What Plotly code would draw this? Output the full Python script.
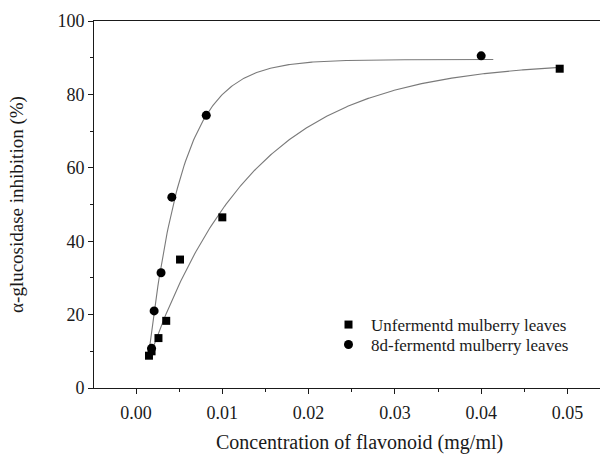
import numpy as np
import plotly.graph_objects as go

# Unfermented mulberry leaves
unf_x = [0.0015, 0.0018, 0.0026, 0.0035, 0.0051, 0.0100, 0.0491]
unf_y = [8.8, 10.0, 13.6, 18.3, 35.0, 46.5, 87.0]
# 8d-fermented mulberry leaves
fer_x = [0.0018, 0.0021, 0.0029, 0.00415, 0.00814, 0.0400]
fer_y = [10.8, 21.0, 31.4, 52.0, 74.3, 90.5]

# exponential-association fit parameters: y = A - B*exp(-k*x)
unf_fit = dict(A=89.0, B=91.6, k=82.0, x0=0.0017, x1=0.0491)
fer_fit = dict(A=89.5, B=116.3, k=250.0, x0=0.0016, x1=0.0414)

x_ticks = [0.00, 0.01, 0.02, 0.03, 0.04, 0.05]
y_ticks = [0, 20, 40, 60, 80, 100]

FONT = "'Liberation Serif', 'Times New Roman', serif"
INK = "#1a1a1a"

def fit_curve(p):
    xs = np.linspace(p["x0"], p["x1"], 300)
    return xs, p["A"] - p["B"] * np.exp(-p["k"] * xs)

fig = go.Figure()
for p in (unf_fit, fer_fit):
    xs, ys = fit_curve(p)
    fig.add_trace(go.Scatter(x=xs, y=ys, mode="lines",
                             line=dict(color="#7a7a7a", width=1.1),
                             showlegend=False, hoverinfo="skip"))

fig.add_trace(go.Scatter(x=unf_x, y=unf_y, mode="markers",
                         name="Unfermentd mulberry leaves", legend="legend",
                         marker=dict(symbol="square", size=8, color="black")))
fig.add_trace(go.Scatter(x=fer_x, y=fer_y, mode="markers",
                         name="8d-fermentd mulberry leaves", legend="legend2",
                         marker=dict(symbol="circle", size=9, color="black")))

PL, PR, PT, PB = 94, 600, 21, 388
W, H = 601, 454
pw, ph = PR - PL, PB - PT

def px_x(px):
    return (px - PL) / pw

def px_y(py):
    return (PB - py) / ph

leg_common = dict(xanchor="left", yanchor="middle", bgcolor="rgba(0,0,0,0)",
                  font=dict(family=FONT, size=17, color=INK), itemwidth=35)

fig.update_layout(
    width=W, height=H,
    margin=dict(l=PL, r=W - PR, t=PT, b=H - PB),
    paper_bgcolor="white", plot_bgcolor="white",
    font=dict(family=FONT, size=18, color=INK),
    legend=dict(x=px_x(326), y=px_y(325), **leg_common),
    legend2=dict(x=px_x(326), y=px_y(345), **leg_common),
    xaxis=dict(range=[-0.00487, 0.05377], tickvals=x_ticks,
               ticktext=[f"{v:.2f}" for v in x_ticks],
               tickfont=dict(size=18), ticklabelstandoff=3,
               showgrid=False, zeroline=False,
               showline=True, linecolor=INK, linewidth=1, mirror=True,
               ticks="outside", ticklen=5, tickcolor=INK,
               minor=dict(dtick=0.005, tick0=0, ticks="outside", ticklen=3, tickcolor=INK)),
    yaxis=dict(range=[0, 100], tickvals=y_ticks,
               tickfont=dict(size=18),
               showgrid=False, zeroline=False,
               showline=True, linecolor=INK, linewidth=1, mirror=False,
               ticks="outside", ticklen=5, tickcolor=INK,
               minor=dict(dtick=10, tick0=0, ticks="outside", ticklen=3, tickcolor=INK),
               title=dict(text="α-glucosidase inhibition (%)", font=dict(size=19), standoff=28)),
    annotations=[dict(text="Concentration of flavonoid (mg/ml)", xref="paper", yref="paper",
                      x=px_x(359.5), y=px_y(443), xanchor="center", yanchor="middle",
                      showarrow=False, font=dict(family=FONT, size=20, color=INK))],
)

fig.write_html("out.html", config={"displayModeBar": False},
               post_script="document.body.style.margin='0px';")
